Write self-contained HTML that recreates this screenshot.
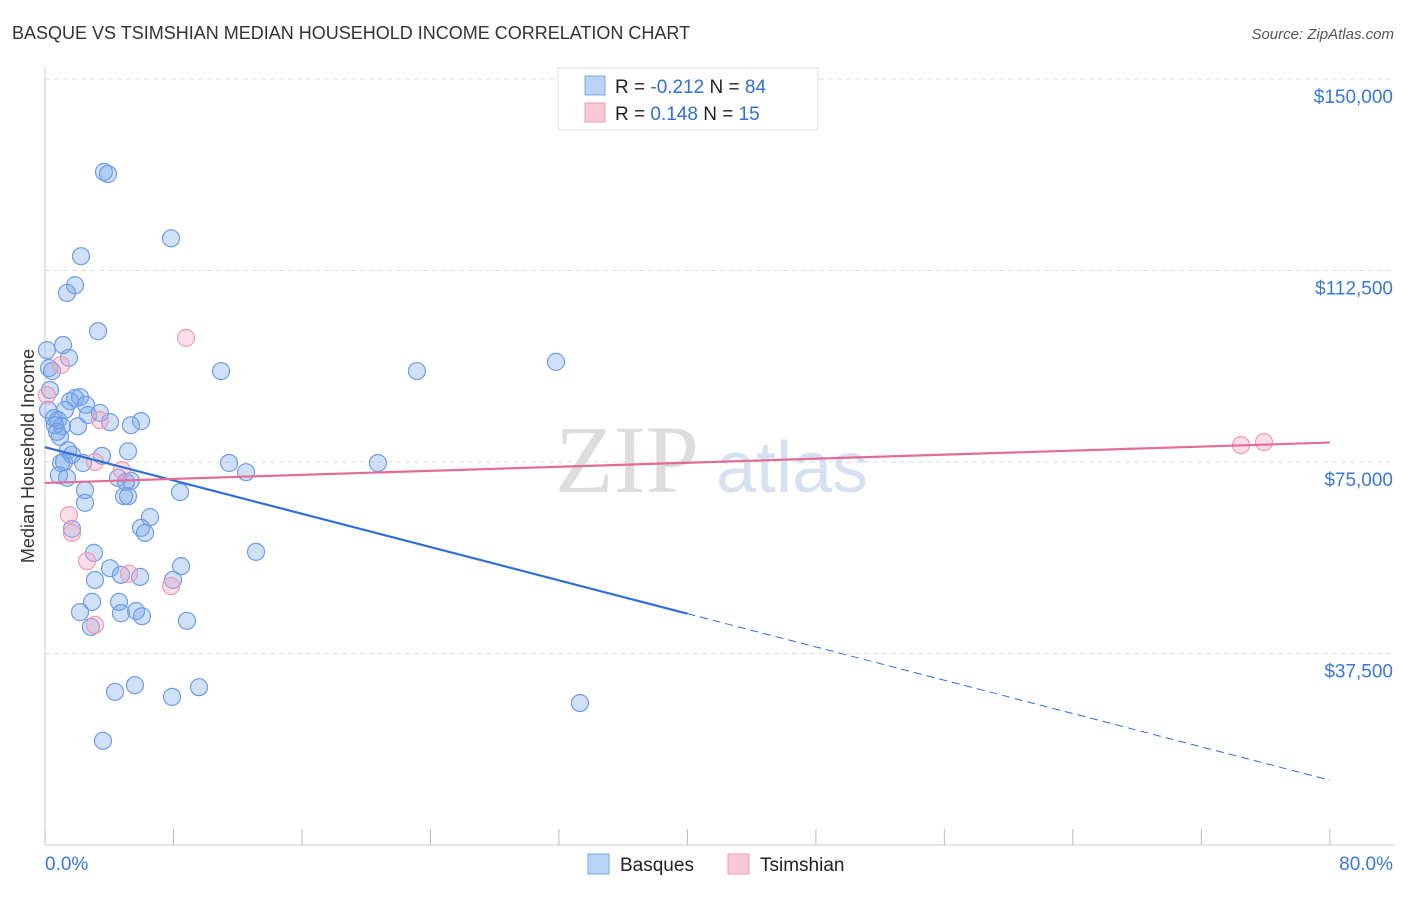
<!DOCTYPE html>
<html><head><meta charset="utf-8"><style>
body{margin:0;background:#fff;font-family:"Liberation Sans",sans-serif}
</style></head><body>
<svg id="c" width="1406" height="892" xmlns="http://www.w3.org/2000/svg">
<text x="12" y="39" font-size="18" fill="#333">BASQUE VS TSIMSHIAN MEDIAN HOUSEHOLD INCOME CORRELATION CHART</text>
<text x="1394" y="39" font-size="15" fill="#555" font-style="italic" text-anchor="end">Source: ZipAtlas.com</text>
<text x="555" y="492" font-size="96" fill="#ddd" font-family="Liberation Serif">ZIP</text>
<text x="716" y="492" font-size="72" fill="#d6e2f2">atlas</text>
<g id="grid"></g><g id="axes"></g><g id="marks"></g>
<text transform="translate(34,456) rotate(-90)" font-size="18" fill="#333" text-anchor="middle">Median Household Income</text>
<g>
<rect x="558" y="68" width="260" height="62" fill="#fff" stroke="#ddd"/>
<rect x="585" y="76" width="20" height="19" fill="#b9d3f5" stroke="#7aa7e6"/>
<rect x="585" y="103" width="20" height="19" fill="#fbc9d8" stroke="#ee9ab5"/>
<text x="615" y="93" font-size="19" fill="#222">R = <tspan fill="#2f6fd6">-0.212</tspan>   N = <tspan fill="#2f6fd6">84</tspan></text>
<text x="615" y="120" font-size="19" fill="#222">R =  <tspan fill="#2f6fd6"> 0.148</tspan>   N = <tspan fill="#2f6fd6"> 15</tspan></text>
</g>
<g>
<rect x="588" y="854" width="21" height="20" fill="#b9d3f5" stroke="#7aa7e6"/>
<text x="620" y="871" font-size="19" fill="#222">Basques</text>
<rect x="728" y="854" width="21" height="20" fill="#fbc9d8" stroke="#ee9ab5"/>
<text x="760" y="871" font-size="19" fill="#222">Tsimshian</text>
</g>
</svg>
<script>
const yTicks=[37.5,75,112.5,150];
const yTickLabels=["$37,500","$75,000","$112,500","$150,000"];
const xTickLabels=["0.0%","80.0%"];
const basqueX=[3.67,3.92,7.85,2.24,1.87,1.37,3.30,1.12,1.49,0.12,0.25,0.44,0.31,1.87,2.18,1.56,2.55,1.25,0.19,0.56,0.81,3.42,2.68,4.05,5.98,5.35,1.06,2.05,0.93,1.43,1.68,1.18,1.00,2.37,5.17,10.96,23.16,31.82,11.46,12.52,20.73,0.87,4.55,5.35,5.04,2.49,8.41,4.92,5.17,2.49,6.54,1.68,5.98,6.23,3.05,13.14,4.05,8.47,4.73,5.92,3.11,7.97,2.93,4.61,2.18,4.73,5.67,6.04,8.84,2.86,5.60,4.36,9.59,7.91,33.31,3.61,0.62,0.75,3.55,1.37];
const basqueY=[131.8,131.4,118.8,115.3,109.6,108.1,100.6,97.9,95.4,96.9,93.4,92.8,89.1,87.5,87.7,86.9,86.2,85.2,85.2,83.6,83.2,84.6,84.2,82.8,83.0,82.2,82.0,82.0,79.9,77.3,76.4,75.0,74.8,74.8,77.1,92.8,92.8,94.6,74.8,73.0,74.8,72.4,71.9,71.3,71.1,69.5,69.1,68.3,68.3,67.0,64.2,61.9,62.1,61.1,57.2,57.4,54.2,54.6,52.9,52.5,51.9,51.9,47.6,47.6,45.6,45.4,45.8,44.8,43.9,42.7,31.3,30.0,30.9,29.0,27.8,20.4,82.2,80.9,76.2,71.9];
const tsimX=[8.78,1.00,3.42,4.79,3.11,1.49,1.68,2.62,5.23,7.85,3.11,74.47,75.90,0.12];
const tsimY=[99.3,94.0,83.2,73.4,75.0,64.6,61.1,55.6,53.1,50.7,43.1,78.3,78.9,88.1];
const basqueTrend=[77.9,12.7];
const tsimTrend=[70.9,78.8];
const basqueSolidEnd=40;
const NS="http://www.w3.org/2000/svg";
const sx=v=>45+v*16.06;
const sy=v=>845-v*5.107;
function mk(t,a,p){const e=document.createElementNS(NS,t);for(const k in a)e.setAttribute(k,a[k]);document.getElementById(p).appendChild(e);return e;}
yTicks.forEach((t,i)=>{
 const g=mk('line',{x1:45,x2:1394,y1:sy(t),y2:sy(t),stroke:'#ddd','stroke-dasharray':'5,4'},'grid');
 
 
 const l=mk('text',{x:1393,y:sy(t)+24,'font-size':19,fill:'#3a78d8','text-anchor':'end'},'axes');
 l.textContent=yTickLabels[i];
 
 
});
mk('line',{x1:45,x2:1394,y1:sy(150),y2:sy(150),stroke:'#ddd','stroke-dasharray':'5,4'},'grid');
const ax=mk('line',{x1:45,x2:45,y1:68,y2:845,stroke:'#ccc'},'axes');


const bx=mk('line',{x1:45,x2:1394,y1:845,y2:845,stroke:'#ccc'},'axes');


for(let i=0;i<=10;i++){const t=mk('line',{x1:sx(i*8),x2:sx(i*8),y1:829,y2:845,stroke:'#bbb'},'axes');
 
 }
[[0,'start',45],[80,'end',1393]].forEach((d,i)=>{const l=mk('text',{x:d[2],y:870,'font-size':19,fill:'#3a78d8','text-anchor':d[1]},'axes');l.textContent=xTickLabels[i];
 
 });
basqueX.forEach((x,i)=>{const c=mk('circle',{cx:sx(x),cy:sy(basqueY[i]),r:8.5,fill:'rgba(120,165,235,0.35)',stroke:'#6f9de3','stroke-width':1.2},'marks');
 
 });
tsimX.forEach((x,i)=>{const c=mk('circle',{cx:sx(x),cy:sy(tsimY[i]),r:8.5,fill:'rgba(245,160,190,0.35)',stroke:'#ee9ab5','stroke-width':1.2},'marks');
 
 });
const by=x=>basqueTrend[0]+(basqueTrend[1]-basqueTrend[0])*x/80;
const l1=mk('line',{x1:sx(0),y1:sy(by(0)),x2:sx(basqueSolidEnd),y2:sy(by(basqueSolidEnd)),stroke:'#2f6fd6','stroke-width':2.2},'marks');


const l2=mk('line',{x1:sx(basqueSolidEnd),y1:sy(by(basqueSolidEnd)),x2:sx(80),y2:sy(by(80)),stroke:'#2f6fd6','stroke-width':1,'stroke-dasharray':'8,5'},'marks');


const l3=mk('line',{x1:sx(0),y1:sy(tsimTrend[0]),x2:sx(80),y2:sy(tsimTrend[1]),stroke:'#e46b96','stroke-width':2.2},'marks');


</script>
</body></html>
